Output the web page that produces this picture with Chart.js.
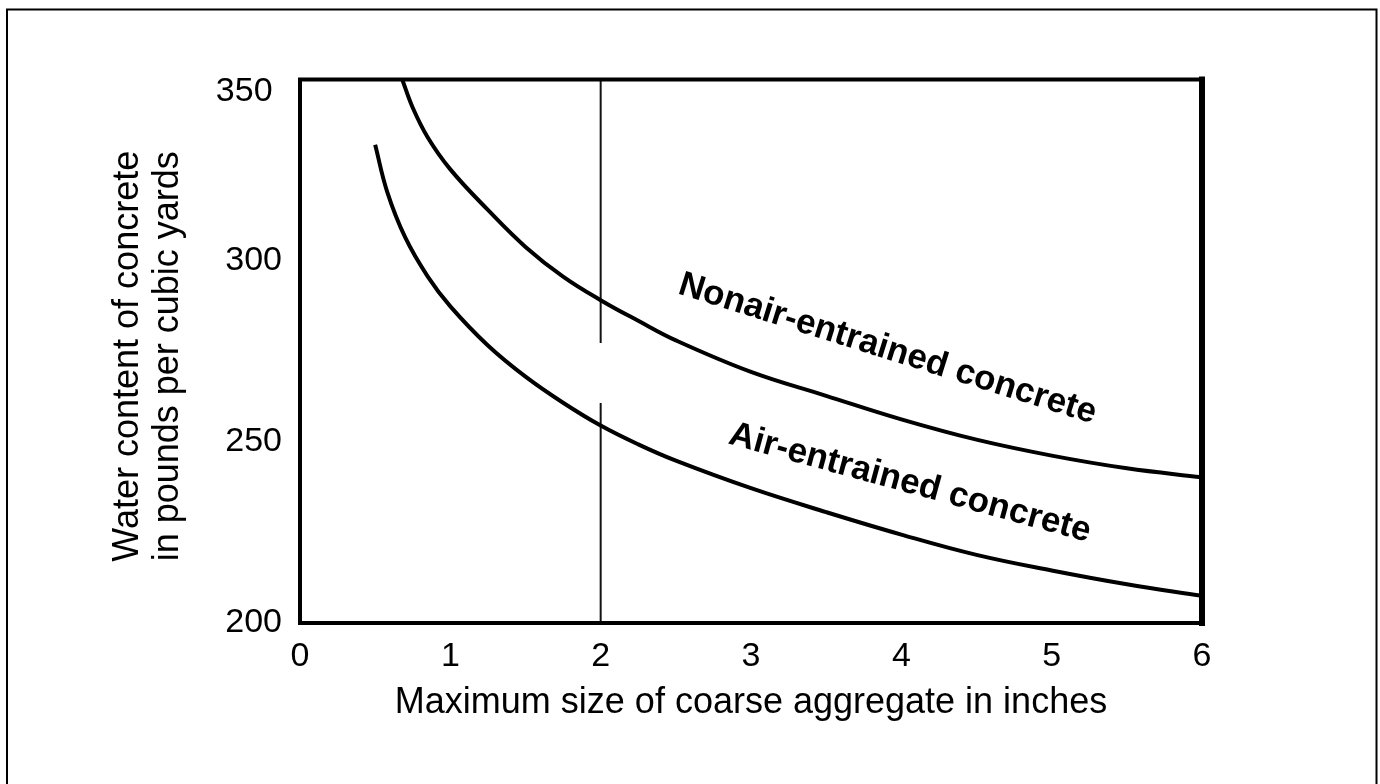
<!DOCTYPE html>
<html>
<head>
<meta charset="utf-8">
<script src="https://cdn.jsdelivr.net/npm/chart.js@4/dist/chart.umd.min.js"></script>
<style>
  html, body { margin: 0; padding: 0; background: #fff; }
  #wrap { width: 1380px; height: 784px; position: relative; }
</style>
</head>
<body>
<div id="wrap"><canvas id="c" width="1380" height="784"></canvas></div>
<script>
// ---- data ----
const nonairX = [0.68, 0.75, 0.85, 1.0, 1.25, 1.5, 1.75, 2.0, 2.25, 2.5, 3.0, 3.5, 4.0, 4.5, 5.0, 5.5, 6.0];
const nonairY = [350, 342.2, 334.0, 325.2, 314, 303.8, 295.6, 289.1, 283.4, 278, 269.3, 262.7, 256.2, 250.6, 246.2, 242.7, 240.2];
const airX = [0.5, 0.58, 0.7, 0.85, 1.0, 1.25, 1.5, 1.75, 2.0, 2.25, 2.5, 3.0, 3.5, 4.0, 4.5, 5.0, 5.5, 6.0];
const airY = [332, 319.0, 306.4, 295.6, 287.4, 276.6, 268.0, 260.8, 254.5, 249.3, 244.8, 237.2, 230.6, 224.4, 218.8, 214.5, 210.7, 207.5];
const refLineX = [2, 2, 2, 2, 2];
const refLineY = [350, 277.3, null, 260.7, 200];
const xTicks = [0, 1, 2, 3, 4, 5, 6];
const yTicks = [200, 250, 300, 350];
const curveLabels = ['Nonair-entrained concrete', 'Air-entrained concrete'];
const curveLabelX = [2.506, 2.842];
const curveLabelY = [291.0, 249.6];
const curveLabelAngle = [17.4, 15.3];
const xTitle = 'Maximum size of coarse aggregate in inches';
const yTitle = ['Water content of concrete ', 'in pounds per cubic yards '];

const toPts = (xs, ys) => xs.map((x, i) => ({ x: x, y: ys[i] }));
const FONT = '"Liberation Sans", Arial, Helvetica, sans-serif';

const framePlugin = {
  id: 'frames',
  beforeDraw(chart) {
    const ctx = chart.ctx;
    ctx.save();
    ctx.fillStyle = '#fff';
    ctx.fillRect(0, 0, chart.width, chart.height);
    ctx.strokeStyle = '#000';
    ctx.lineWidth = 2;
    ctx.strokeRect(7, 9.5, 1369.5, 800);
    ctx.restore();
  },
  afterDatasetsDraw(chart) {
    const { ctx, chartArea: a, scales } = chart;
    ctx.save();
    ctx.strokeStyle = '#000';
    ctx.lineCap = 'square';
    ctx.lineWidth = 4;
    ctx.beginPath();
    ctx.moveTo(a.left, a.top); ctx.lineTo(a.right, a.top);
    ctx.moveTo(a.left, a.top); ctx.lineTo(a.left, a.bottom);
    ctx.moveTo(a.left, a.bottom); ctx.lineTo(a.right, a.bottom);
    ctx.stroke();
    ctx.lineWidth = 6;
    ctx.beginPath();
    ctx.moveTo(a.right, a.top); ctx.lineTo(a.right, a.bottom);
    ctx.stroke();
    // curve labels
    ctx.fillStyle = '#000';
    ctx.font = 'bold 35px ' + FONT;
    ctx.textBaseline = 'alphabetic';
    ctx.textAlign = 'left';
    curveLabels.forEach((t, i) => {
      const px = scales.x.getPixelForValue(curveLabelX[i]);
      const py = scales.y.getPixelForValue(curveLabelY[i]);
      ctx.save();
      ctx.translate(px, py);
      ctx.rotate(curveLabelAngle[i] * Math.PI / 180);
      ctx.fillText(t, 0, 0);
      ctx.restore();
    });
    ctx.restore();
  }
};

new Chart(document.getElementById('c'), {
  type: 'line',
  data: {
    datasets: [
      { label: 'Nonair-entrained concrete', data: toPts(nonairX, nonairY),
        borderColor: '#000', borderWidth: 4, pointRadius: 0, tension: 0.4, fill: false },
      { label: 'Air-entrained concrete', data: toPts(airX, airY),
        borderColor: '#000', borderWidth: 4, pointRadius: 0, tension: 0.4, fill: false },
      { label: 'ref', data: toPts(refLineX, refLineY),
        borderColor: '#111', borderWidth: 2, pointRadius: 0, tension: 0, spanGaps: false, fill: false }
    ]
  },
  options: {
    responsive: false,
    animation: false,
    events: [],
    layout: { padding: { left: 0, top: 79.5, right: 178, bottom: 0 } },
    plugins: { legend: { display: false }, tooltip: { enabled: false } },
    scales: {
      x: {
        type: 'linear', min: 0, max: 6,
        afterBuildTicks: s => { s.ticks = xTicks.map(v => ({ value: v })); },
        afterFit: s => { s.height = 161; },
        grid: { display: false, drawTicks: false },
        border: { display: false },
        ticks: { color: '#000', font: { family: FONT, size: 34 }, padding: 13, maxRotation: 0 },
        title: { display: true, text: xTitle, color: '#000',
                 font: { family: FONT, size: 36, lineHeight: 1.15 }, padding: { top: 0, bottom: 60 } }
      },
      y: {
        type: 'linear', min: 200, max: 350,
        afterBuildTicks: s => { s.ticks = yTicks.map(v => ({ value: v })); },
        afterFit: s => { s.width = 300; },
        grid: { display: false, drawTicks: false },
        border: { display: false },
        ticks: {
          color: '#000', padding: 18,
          font: c => ({ family: FONT, size: 34, lineHeight: (c.tick && c.tick.value === 350) ? 0.706 : 1.2 }),
          callback: v => (v === 350 ? ['', '350 '] : String(v))
        },
        title: { display: true, text: yTitle, color: '#000',
                 font: { family: FONT, size: 36, lineHeight: 1.12 }, padding: { top: 108, bottom: 0 } }
      }
    }
  },
  plugins: [framePlugin]
});
</script>
</body>
</html>
